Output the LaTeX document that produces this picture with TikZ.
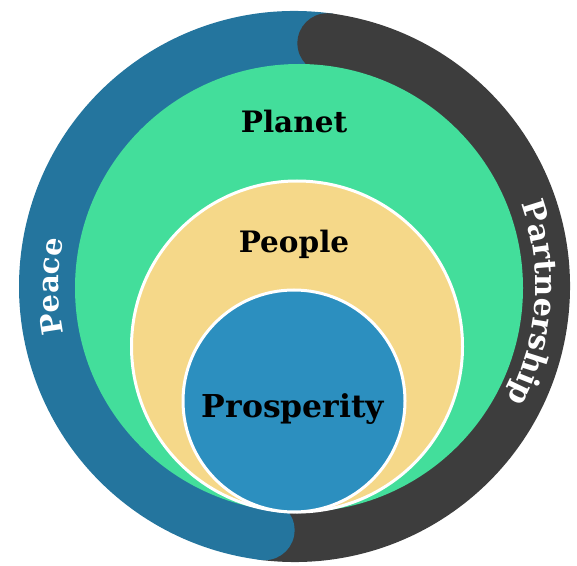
\documentclass[tikz,border=0pt]{standalone}
\usepackage{fontspec}
\newfontfamily\labelfont{DejaVu Serif}
\usetikzlibrary{decorations.text}
\definecolor{peaceblue}{RGB}{36,117,158}
\definecolor{darkband}{RGB}{61,61,61}
\definecolor{planetgreen}{RGB}{67,222,155}
\definecolor{peopleyellow}{RGB}{245,216,137}
\definecolor{prosblue}{RGB}{44,143,191}
\tikzset{
  band/.style={line width=60pt},
  inner/.style={draw=white, line width=3pt},
  lbl/.style={font=\labelfont\bfseries\fontsize{29.5}{32}\selectfont, text=black, anchor=base, inner sep=0pt},
}
\begin{document}
\begin{tikzpicture}[x=1pt,y=1pt]
\useasboundingbox (0,0) rectangle (577,565);
\coordinate (C) at (294.5,278.5);
% outer ring: Peace (left) and Partnership (right)
\draw[band, peaceblue] ([shift={(82:245.5)}]C) arc[start angle=82, end angle=263, radius=245.5];
\draw[band, darkband] ([shift={(-97:245.5)}]C) arc[start angle=-97, end angle=82.3, radius=245.5];
\fill[darkband] ([shift={(82.3:245.5)}]C) circle[radius=30];
\fill[peaceblue] ([shift={(263:245.5)}]C) circle[radius=30];
% nested circles
\fill[planetgreen] (299,277) circle[radius=224];
\draw[inner, fill=peopleyellow] (297,218.5) circle[radius=165.5];
\draw[inner, fill=prosblue] (294,164) circle[radius=111];
% labels
\node[lbl] (planet) at (294,432) {Planet};
\node[lbl] (people) at (294,312) {People};
\node[lbl, font=\labelfont\bfseries\fontsize{31.5}{34}\selectfont] (prosperity) at (293,148) {Prosperity};
% curved labels on the ring
\path[decorate, decoration={text along path, text align=center, text color=white,
  text={|\labelfont\bfseries\fontsize{29}{32}\selectfont|Peace}}]
  ([shift={(215:236)}]C) arc[start angle=215, end angle=145, radius=236];
\path[decorate, decoration={text along path, text align=center, text color=white,
  text={|\labelfont\bfseries\fontsize{30.5}{32}\selectfont|Partnership}}]
  ([shift={(30:241)}]C) arc[start angle=30, end angle=-38, radius=241];
\end{tikzpicture}
\end{document}
